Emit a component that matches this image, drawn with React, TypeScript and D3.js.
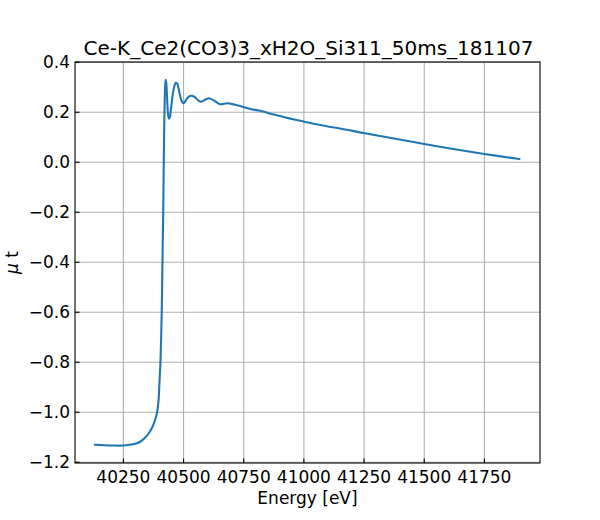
import React from "react";
import * as d3 from "d3";

const energy = [40132, 40200, 40250, 40300, 40320, 40340, 40355, 40370, 40382, 40390, 40396, 40400, 40404, 40407, 40410, 40412, 40414, 40416, 40419, 40422, 40424, 40426, 40428, 40431, 40435, 40439, 40443, 40448, 40455, 40462, 40468, 40473, 40478, 40485, 40492, 40499, 40506, 40515, 40530, 40545, 40560, 40572, 40590, 40606, 40625, 40652, 40682, 40710, 40735, 40777, 40818, 40870, 40920, 40960, 41002, 41100, 41150, 41253, 41380, 41500, 41620, 41750, 41895];
const mu = [-1.130, -1.133, -1.133, -1.126, -1.118, -1.102, -1.085, -1.060, -1.030, -1.000, -0.955, -0.88, -0.80, -0.70, -0.564, -0.43, -0.30, -0.164, 0.10, 0.26, 0.31, 0.33, 0.32, 0.27, 0.20, 0.175, 0.18, 0.215, 0.27, 0.305, 0.318, 0.316, 0.30, 0.27, 0.245, 0.236, 0.242, 0.256, 0.266, 0.262, 0.248, 0.242, 0.250, 0.256, 0.248, 0.232, 0.236, 0.231, 0.225, 0.213, 0.206, 0.192, 0.180, 0.171, 0.162, 0.143, 0.135, 0.116, 0.094, 0.073, 0.053, 0.033, 0.013];
const xTicks = [40250, 40500, 40750, 41000, 41250, 41500, 41750];
const yTicks = [-1.2, -1.0, -0.8, -0.6, -0.4, -0.2, 0.0, 0.2, 0.4];
const title = "Ce-K_Ce2(CO3)3_xH2O_Si311_50ms_181107";
const xLabel = "Energy [eV]";
const yLabelSym = "\u03bc";
const yLabelRest = " t";

const W = 600, H = 520;
const L = 75, R = 540, T = 62, B = 463;
const font = "DejaVu Sans";

export default function App() {
  const x = d3.scaleLinear().domain([40049, 41981]).range([L, R]);
  const y = d3.scaleLinear().domain([-1.203, 0.401]).range([B, T]);
  const pts = energy.map((e, i) => [e, mu[i]] as [number, number]);
  const line = d3.line<[number, number]>().x(d => x(d[0])).y(d => y(d[1])).curve(d3.curveCatmullRom.alpha(0.5));
  const fmtY = (v: number) => v.toFixed(1).replace("-", "\u2212");
  return (
    <svg width={W} height={H} style={{ position: "absolute", left: 0, top: 0, background: "#fff" }} fontFamily={font}>
      <rect x={0} y={0} width={W} height={H} fill="#fff" />
      <g>
        {xTicks.map(t => (
          <line key={"gx" + t} x1={x(t)} x2={x(t)} y1={T} y2={B} stroke="#b0b0b0" strokeWidth={1.1} />
        ))}
        {yTicks.map(t => (
          <line key={"gy" + t} x1={L} x2={R} y1={y(t)} y2={y(t)} stroke="#b0b0b0" strokeWidth={1.1} />
        ))}
      </g>
      <path d={line(pts) || ""} fill="none" stroke="#1f77b4" strokeWidth={2.1} strokeLinejoin="round" strokeLinecap="square" />
      <rect x={L} y={T} width={R - L} height={B - T} fill="none" stroke="#000" strokeWidth={1.1} />
      {xTicks.map(t => (
        <g key={"tx" + t}>
          <line x1={x(t)} x2={x(t)} y1={B} y2={B - 4.5} stroke="#000" strokeWidth={1.1} />
          <text x={x(t)} y={483} fontSize={17} textAnchor="middle" fill="#000">{t}</text>
        </g>
      ))}
      {yTicks.map(t => (
        <g key={"ty" + t}>
          <line x1={L} x2={L + 4.5} y1={y(t)} y2={y(t)} stroke="#000" strokeWidth={1.1} />
          <text x={70} y={y(t)} dy="0.36em" fontSize={17} textAnchor="end" fill="#000">{fmtY(t)}</text>
        </g>
      ))}
      <text x={(L + R) / 2 + 1} y={55} fontSize={20} textAnchor="middle" fill="#000">{title}</text>
      <text x={(L + R) / 2} y={504} fontSize={17} textAnchor="middle" fill="#000">{xLabel}</text>
      <text transform={`translate(18,${(T + B) / 2}) rotate(-90)`} fontSize={17} textAnchor="middle" fill="#000">
        <tspan fontStyle="italic">{yLabelSym}</tspan>{yLabelRest}
      </text>
    </svg>
  );
}
